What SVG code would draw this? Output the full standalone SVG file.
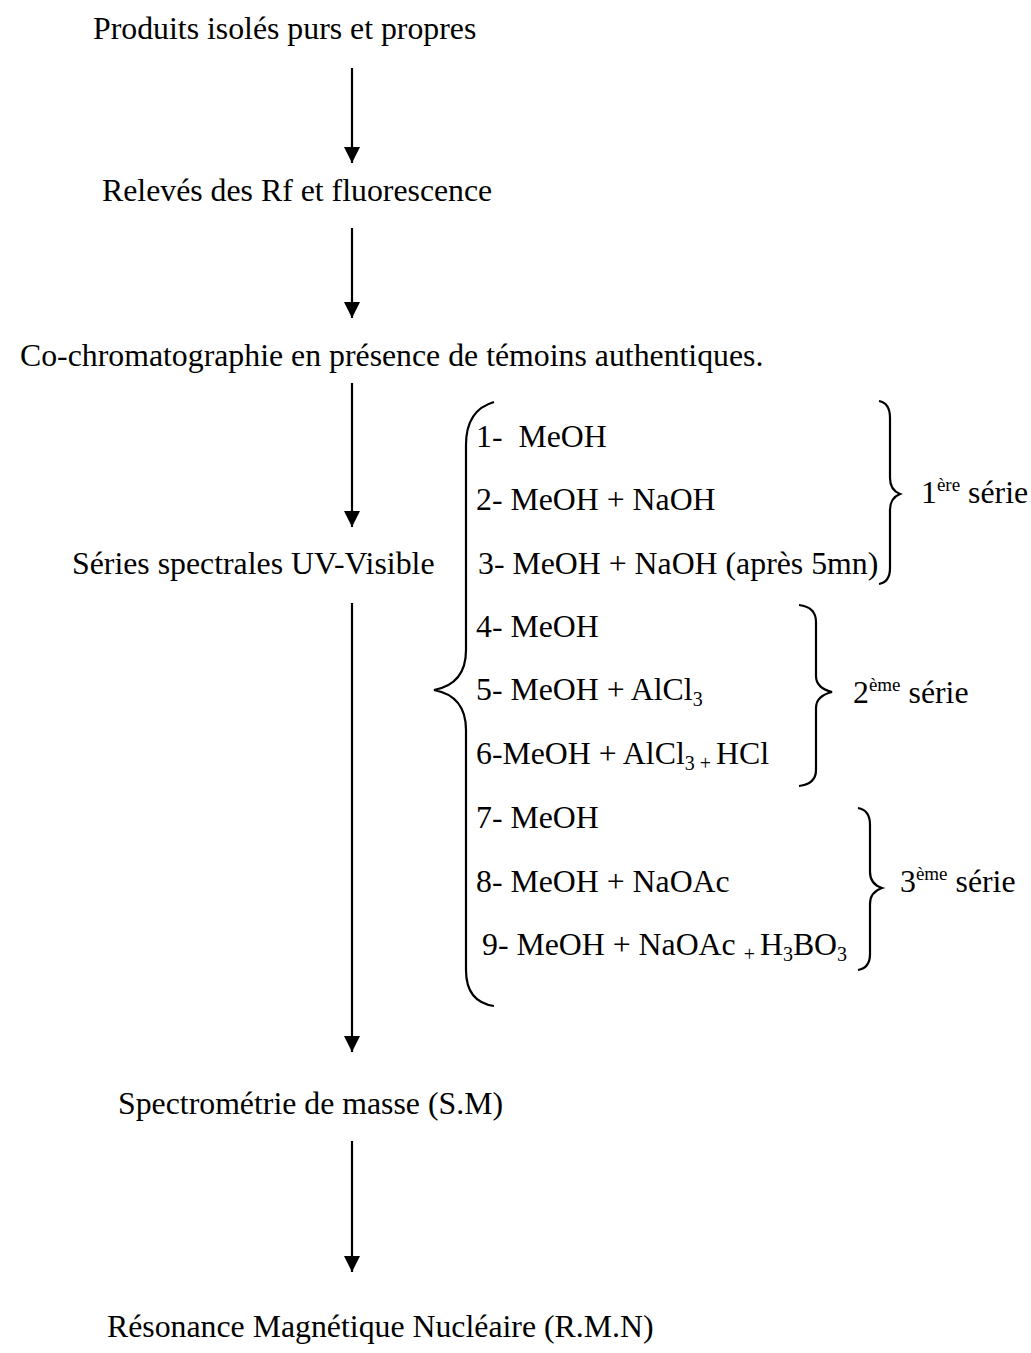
<svg xmlns="http://www.w3.org/2000/svg" width="1031" height="1353" viewBox="0 0 1031 1353">
<style>
text{font-family:"Liberation Serif","Times New Roman",serif;font-size:31.8px;fill:#000}
.s{font-size:20px}
.sup{font-size:19px}
.conn line{stroke:#000;stroke-width:2.2}
.brace{fill:none;stroke:#000;stroke-width:2.2}
</style>
<defs>
<marker id="a" viewBox="0 0 16 16" refX="16" refY="8" markerUnits="userSpaceOnUse" markerWidth="16" markerHeight="16" orient="auto">
<path d="M0,0 L16,8 L0,16 Z" fill="#000"/>
</marker>
</defs>
<rect width="1031" height="1353" fill="#fff"/>
<g id="n1"><text x="93" y="39">Produits isolés purs et propres</text></g>
<g id="n2"><text x="102" y="201">Relevés des Rf et fluorescence</text></g>
<g id="n3"><text x="20" y="366">Co-chromatographie en présence de témoins authentiques.</text></g>
<g id="n4"><text x="72" y="574">Séries spectrales UV-Visible</text></g>
<g id="n5"><text x="118" y="1114">Spectrométrie de masse (S.M)</text></g>
<g id="n6"><text x="107" y="1337">Résonance Magnétique Nucléaire (R.M.N)</text></g>
<g id="conditions">
<text x="476" y="447" xml:space="preserve">1-  MeOH</text>
<text x="476" y="510">2- MeOH + NaOH</text>
<text x="478" y="574">3- MeOH + NaOH (après 5mn)</text>
<text x="476" y="637">4- MeOH</text>
<text x="476" y="700">5- MeOH + AlCl<tspan class="s" dy="6">3</tspan></text>
<text x="476" y="764">6-MeOH + AlCl<tspan class="s" dy="6">3 + </tspan><tspan dy="-6">HCl</tspan></text>
<text x="476" y="828">7- MeOH</text>
<text x="476" y="892">8- MeOH + NaOAc</text>
<text x="482" y="955">9- MeOH + NaOAc <tspan class="s" dy="6">+ </tspan><tspan dy="-6">H</tspan><tspan class="s" dy="6">3</tspan><tspan dy="-6">BO</tspan><tspan class="s" dy="6">3</tspan></text>
</g>
<g id="serie1"><text x="921" y="503">1<tspan class="sup" dy="-12">ère</tspan><tspan dy="12"> série</tspan></text></g>
<g id="serie2"><text x="853" y="703">2<tspan class="sup" dy="-12">ème</tspan><tspan dy="12"> série</tspan></text></g>
<g id="serie3"><text x="900" y="892">3<tspan class="sup" dy="-12">ème</tspan><tspan dy="12"> série</tspan></text></g>
<g id="braces">
<path class="brace" d="M494,402 Q466,410 466,445 L466,650 Q466,684 434,690 Q466,696 466,730 L466,970 Q466,1002 494,1006"/>
<path class="brace" d="M879,401 Q890,403 890,418 L890,478 Q890,490 900,494 Q890,498 890,510 L890,568 Q890,582 879,584"/>
<path class="brace" d="M799,605 Q816,607 816,622 L816,676 Q816,688 832,692 Q816,696 816,708 L816,770 Q816,784 799,786"/>
<path class="brace" d="M858,808 Q870,810 870,825 L870,872 Q870,884 882,888 Q870,892 870,904 L870,954 Q870,968 858,970"/>
</g>
<g class="conn" id="connectors">
<line x1="352" y1="68" x2="352" y2="163" marker-end="url(#a)"/>
<line x1="352" y1="228" x2="352" y2="318" marker-end="url(#a)"/>
<line x1="352" y1="383" x2="352" y2="527" marker-end="url(#a)"/>
<line x1="352" y1="603" x2="352" y2="1052" marker-end="url(#a)"/>
<line x1="352" y1="1141" x2="352" y2="1272" marker-end="url(#a)"/>
</g>
</svg>
